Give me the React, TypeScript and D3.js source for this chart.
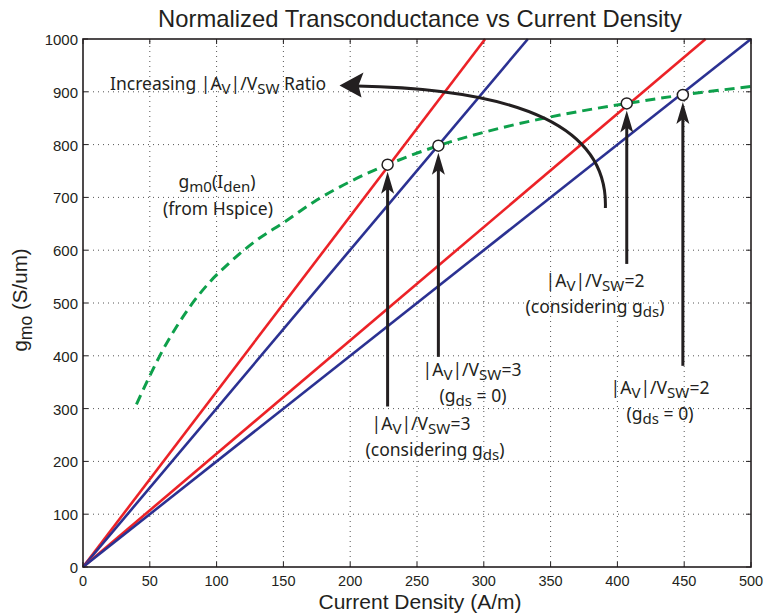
import React from 'react';
import * as d3 from 'd3';

// axis ticks
const xTickValues = [0, 50, 100, 150, 200, 250, 300, 350, 400, 450, 500];
const yTickValues = [0, 100, 200, 300, 400, 500, 600, 700, 800, 900, 1000];

// straight load lines (end points)
const redSteep: [number, number][] = [[0, 0], [301, 1000]];
const blueSteep: [number, number][] = [[0, 0], [333, 1000]];
const redShallow: [number, number][] = [[0, 0], [466, 1000]];
const blueShallow: [number, number][] = [[0, 0], [500, 1000]];

// gm0(Iden) from Hspice (dashed green)
const gmX = [40, 50, 60, 70, 80, 95, 110, 130, 150, 175, 200, 228, 266, 312, 357, 407, 449, 500];
const gmY = [308, 362, 412, 455, 493, 540, 577, 619, 652, 695, 730, 762, 798, 831, 856, 878, 894, 910];

// operating points (circles) and arrow tails
const opX = [228, 266, 407, 449];
const opY = [762, 798, 878, 894];
const arrowTailY = [304, 398, 574, 381];

const RED = '#ec2227';
const BLUE = '#2b3192';
const GREEN = '#0ea04b';

type Part = { t: string; sub?: boolean };

const Rich: React.FC<{ x: number; y: number; parts: Part[]; size: number; anchor?: string; family?: string }> = ({ x, y, parts, size, anchor = 'start', family }) => {
  let cur = 0;
  return (
    <text x={x} y={y} fontSize={size} textAnchor={anchor} fontFamily={family} fill="#231f20">
      {parts.map((p, i) => {
        const target = p.sub ? size * 0.22 : 0;
        const dy = target - cur;
        cur = target;
        return (
          <tspan key={i} dy={dy} fontSize={p.sub ? size * 0.86 : size}>{p.t}</tspan>
        );
      })}
    </text>
  );
};

const avParts = (n: string): Part[] => [
  { t: '|A' }, { t: 'V', sub: true }, { t: '|/V' }, { t: 'SW', sub: true }, { t: '=' + n },
];

const App: React.FC = () => {
  const width = 764;
  const height = 614;
  const x = d3.scaleLinear().domain([0, 500]).range([83, 751]);
  const y = d3.scaleLinear().domain([0, 1000]).range([567, 39]);

  const straight = d3.line<[number, number]>().x(d => x(d[0])).y(d => y(d[1]));
  const gmLine = d3.line<number>()
    .x((_, i) => x(gmX[i]))
    .y(d => y(d))
    .curve(d3.curveMonotoneX);

  const tickFont = '"Liberation Sans", Arial, sans-serif';
  const annFont = '"Noto Sans", "Open Sans", sans-serif';
  const annSize = 17.5;

  // curved "increasing" arrow
  const cp = d3.path();
  cp.moveTo(x(391), y(680));
  cp.bezierCurveTo(x(393), y(830), x(330), y(905), x(205), y(911));
  const tipX = x(192), tipY = y(912);

  return (
    <svg width={width} height={height} style={{ position: 'absolute', left: 0, top: 0, background: '#fff' }}>
      <rect width={width} height={height} fill="#fff" />
      <text x={420} y={27} textAnchor="middle" fontSize={23.8} fontFamily={tickFont} fill="#231f20">
        Normalized Transconductance vs Current Density
      </text>

      {/* grid */}
      <g stroke="#555" strokeWidth={1} strokeDasharray="1,4">
        {xTickValues.slice(1, -1).map(v => (
          <line key={'gx' + v} x1={x(v)} x2={x(v)} y1={y(0)} y2={y(1000)} />
        ))}
        {yTickValues.slice(1, -1).map(v => (
          <line key={'gy' + v} x1={x(0)} x2={x(500)} y1={y(v)} y2={y(v)} />
        ))}
      </g>

      {/* ticks */}
      <g stroke="#231f20" strokeWidth={1}>
        {xTickValues.map(v => (
          <g key={'tx' + v}>
            <line x1={x(v)} x2={x(v)} y1={y(0)} y2={y(0) - 5} />
            <line x1={x(v)} x2={x(v)} y1={y(1000)} y2={y(1000) + 5} />
          </g>
        ))}
        {yTickValues.map(v => (
          <g key={'ty' + v}>
            <line x1={x(0)} x2={x(0) + 5} y1={y(v)} y2={y(v)} />
            <line x1={x(500)} x2={x(500) - 5} y1={y(v)} y2={y(v)} />
          </g>
        ))}
      </g>

      {xTickValues.map(v => (
        <text key={'lx' + v} x={x(v)} y={586} textAnchor="middle" fontSize={14.5} fontFamily={tickFont} fill="#231f20">{v}</text>
      ))}
      {yTickValues.map(v => (
        <text key={'ly' + v} x={78} y={y(v) + 6} textAnchor="end" fontSize={15} fontFamily={tickFont} fill="#231f20">{v}</text>
      ))}

      <text x={420} y={609} textAnchor="middle" fontSize={21} fontFamily={tickFont} fill="#231f20">Current Density (A/m)</text>
      <g transform="translate(27,300) rotate(-90)">
        <Rich x={0} y={0} anchor="middle" size={20.5} family={tickFont}
          parts={[{ t: 'g' }, { t: 'mo', sub: true }, { t: ' (S/um)' }]} />
      </g>

      {/* lines */}
      <g fill="none" strokeWidth={2.6}>
        <path d={straight(redSteep) ?? ''} stroke={RED} />
        <path d={straight(blueSteep) ?? ''} stroke={BLUE} />
        <path d={straight(redShallow) ?? ''} stroke={RED} />
        <path d={straight(blueShallow) ?? ''} stroke={BLUE} />
      </g>
      <path d={gmLine(gmY) ?? ''} fill="none" stroke={GREEN} strokeWidth={3} strokeDasharray="10,6" />

      {/* frame */}
      <rect x={x(0)} y={y(1000)} width={x(500) - x(0)} height={y(0) - y(1000)} fill="none" stroke="#231f20" strokeWidth={1.6} />

      {/* vertical arrows */}
      {opX.map((v, i) => {
        const px = x(v);
        const tip = y(opY[i]) + 7;
        return (
          <g key={'ar' + i}>
            <line x1={px} x2={px} y1={y(arrowTailY[i])} y2={tip + 14} stroke="#231f20" strokeWidth={3} />
            <path d={`M${px},${tip} L${px + 6.5},${tip + 22} L${px},${tip + 17} L${px - 6.5},${tip + 22} Z`} fill="#231f20" />
          </g>
        );
      })}

      {/* circles */}
      {opX.map((v, i) => (
        <circle key={'c' + i} cx={x(v)} cy={y(opY[i])} r={5.5} fill="#fff" stroke="#231f20" strokeWidth={1.5} />
      ))}

      {/* curved arrow */}
      <path d={cp.toString()} fill="none" stroke="#231f20" strokeWidth={3} />
      <path d={`M${tipX},${tipY} L${tipX + 24},${tipY - 13} L${tipX + 19},${tipY} L${tipX + 22},${tipY + 12} Z`} fill="#231f20" />

      {/* annotations */}
      <Rich x={110} y={90} size={annSize} family={annFont} parts={[{ t: 'Increasing |A' }, { t: 'V', sub: true }, { t: '|/V' }, { t: 'SW', sub: true }, { t: ' Ratio' }]} />
      <Rich x={217} y={188} anchor="middle" size={annSize} family={annFont}
        parts={[{ t: 'g' }, { t: 'm0', sub: true }, { t: '(' }, { t: 'I' }, { t: 'den', sub: true }, { t: ')' }]} />
      <Rich x={218} y={215} anchor="middle" size={annSize} family={annFont} parts={[{ t: '(from Hspice)' }]} />

      <Rich x={421} y={430} anchor="middle" size={annSize} family={annFont} parts={avParts('3')} />
      <Rich x={435} y={456} anchor="middle" size={annSize} family={annFont} parts={[{ t: '(considering g' }, { t: 'ds', sub: true }, { t: ')' }]} />

      <Rich x={472} y={376} anchor="middle" size={annSize} family={annFont} parts={avParts('3')} />
      <Rich x={473} y={402} anchor="middle" size={annSize} family={annFont} parts={[{ t: '(g' }, { t: 'ds', sub: true }, { t: ' = 0)' }]} />

      <Rich x={595} y={287} anchor="middle" size={annSize} family={annFont} parts={avParts('2')} />
      <Rich x={595} y={313} anchor="middle" size={annSize} family={annFont} parts={[{ t: '(considering g' }, { t: 'ds', sub: true }, { t: ')' }]} />

      <Rich x={660} y={394} anchor="middle" size={annSize} family={annFont} parts={avParts('2')} />
      <Rich x={660} y={420} anchor="middle" size={annSize} family={annFont} parts={[{ t: '(g' }, { t: 'ds', sub: true }, { t: ' = 0)' }]} />
    </svg>
  );
};

export default App;
